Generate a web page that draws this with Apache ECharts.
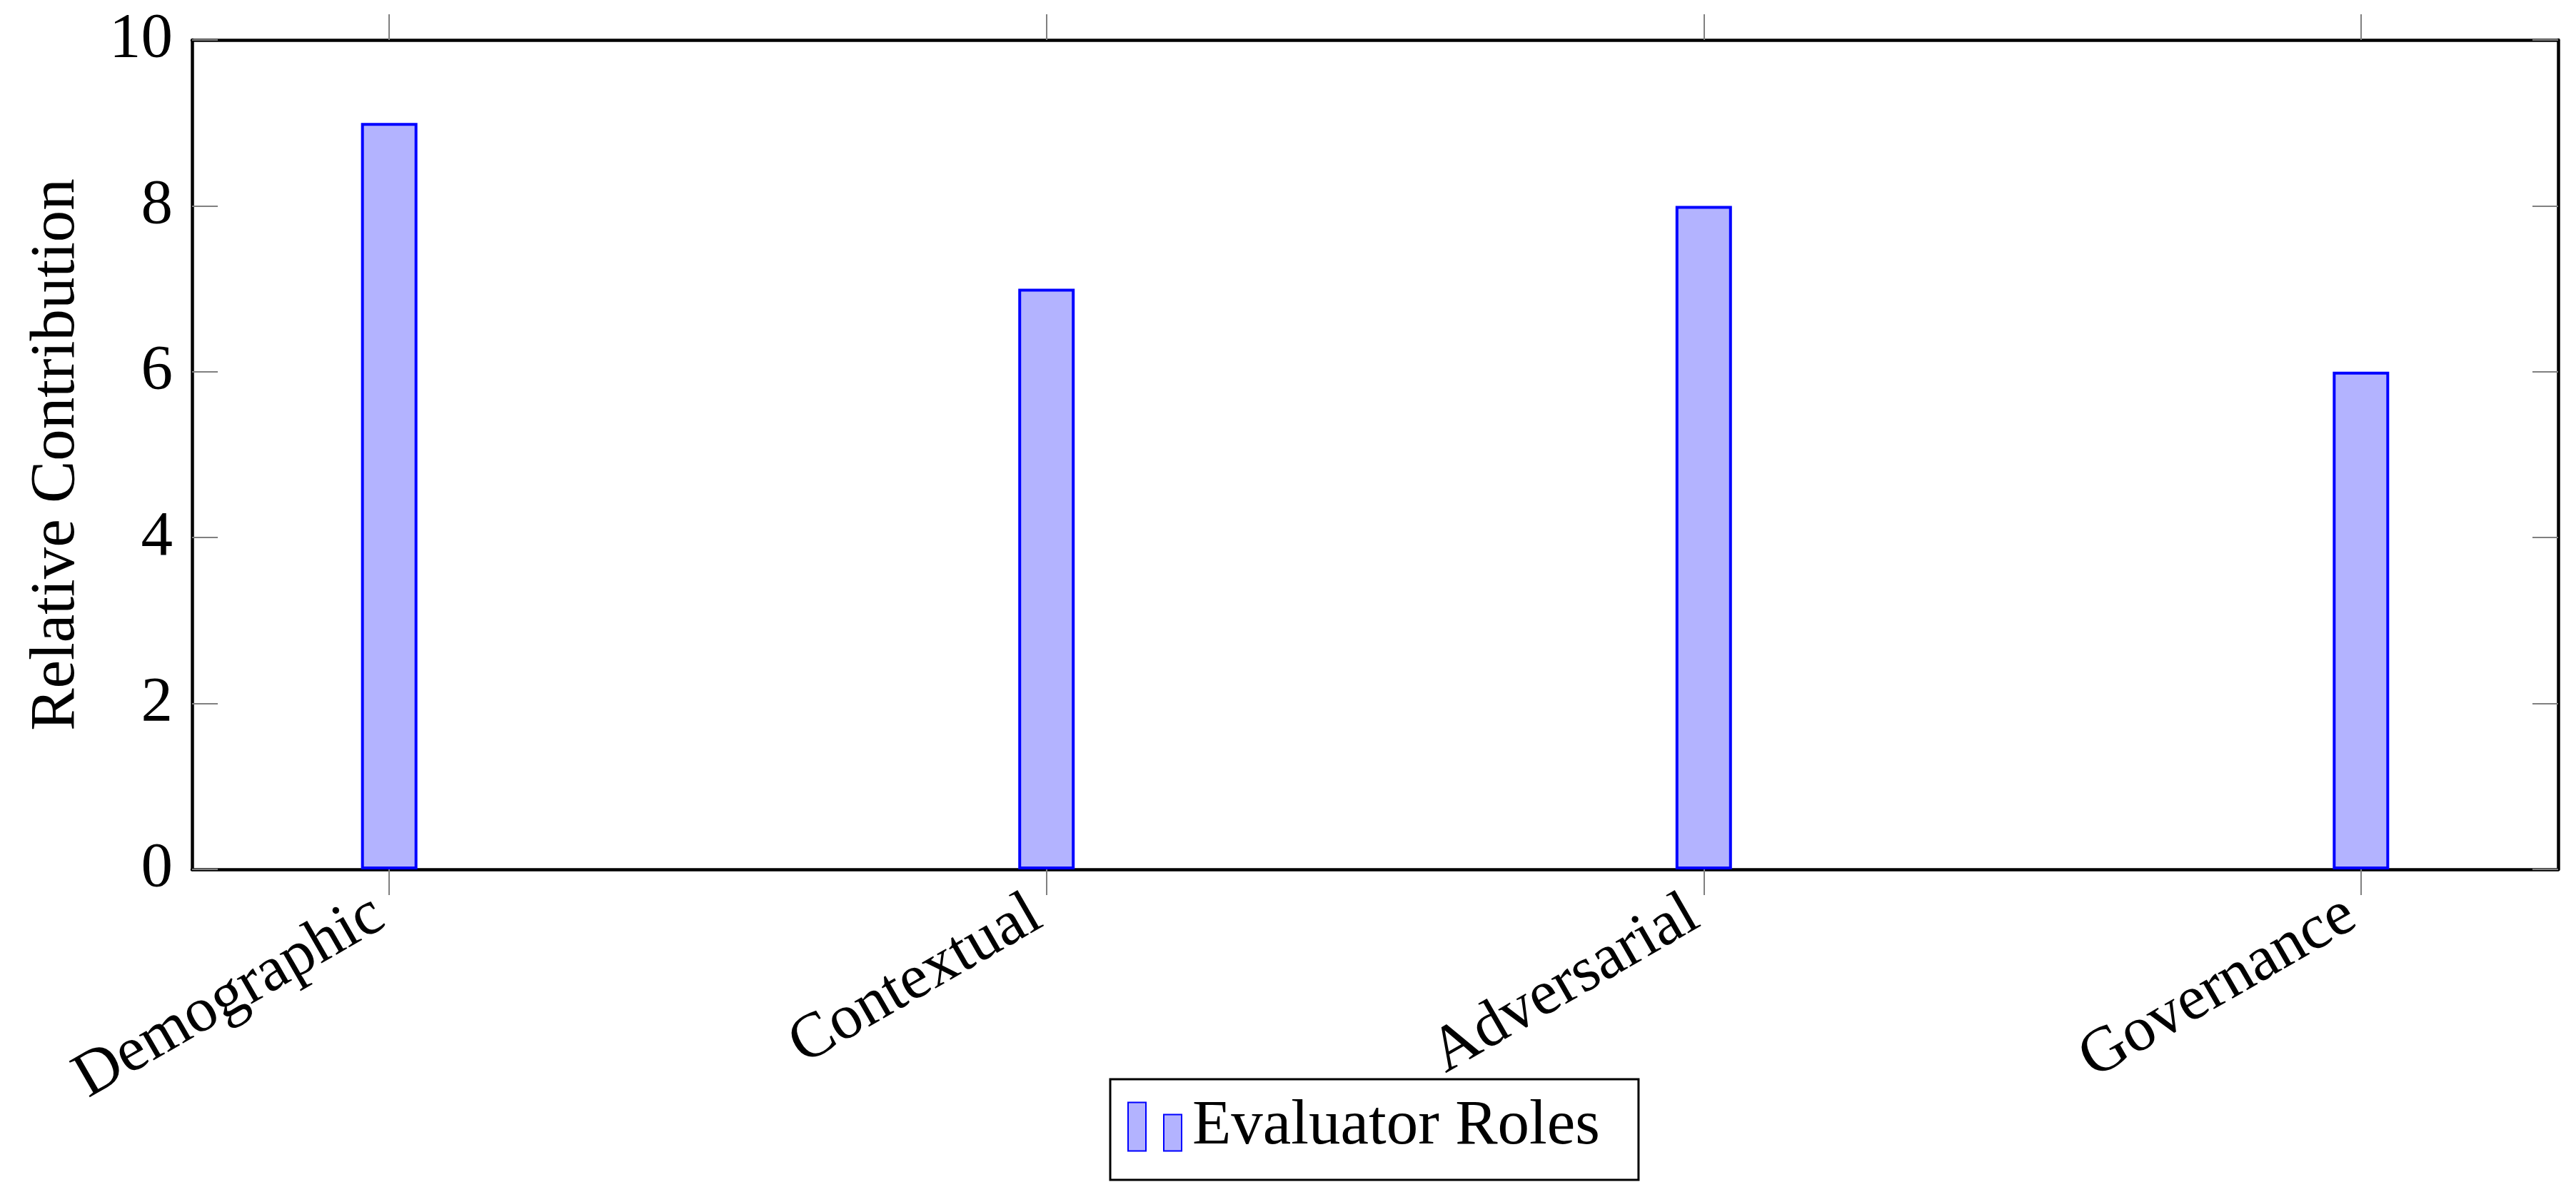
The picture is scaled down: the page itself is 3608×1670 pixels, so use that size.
<!DOCTYPE html>
<html>
<head>
<meta charset="utf-8">
<script src="https://cdn.jsdelivr.net/npm/echarts@6/dist/echarts.min.js"></script>
<style>
  html, body { margin: 0; padding: 0; background: #fff; }
  #chart { width: 3608px; height: 1670px; }
</style>
</head>
<body>
<div id="chart"></div>
<script>
// categories and values
const categories = ['Demographic', 'Contextual', 'Adversarial', 'Governance']
const contribution = [9, 7, 8, 6]
const yTicks = [0, 2, 4, 6, 8, 10]
const seriesName = 'Evaluator Roles'

const FONT = 'Liberation Serif'
const FONT_SIZE = 89
const tickPos = categories.map((c, i) => i)

const chart = echarts.init(document.getElementById('chart'))

const xBase = {
  type: 'value',
  min: -0.3,
  max: 3.3,
  splitLine: { show: false },
  axisLine: { show: true, onZero: false, lineStyle: { color: '#000', width: 4.5 } },
  axisTick: {
    show: true,
    inside: false,
    length: 36,
    customValues: tickPos,
    lineStyle: { color: '#808080', width: 2 },
  },
}

const yBase = {
  type: 'value',
  min: 0,
  max: 10,
  interval: 2,
  splitLine: { show: false },
  axisLine: { show: true, onZero: false, lineStyle: { color: '#000', width: 4.5 } },
  axisTick: { show: true, inside: true, length: 36, lineStyle: { color: '#808080', width: 2 } },
}

const option = {
  backgroundColor: '#fff',
  animation: false,
  grid: { left: 269, right: 25, top: 56, bottom: 452 },
  legend: {
    data: [seriesName],
    left: 1555,
    top: 1512,
    icon: 'path://M0,0 H25 V68 H0 Z M50,17 H75 V68 H50 Z',
    itemWidth: 75,
    itemHeight: 68,
    padding: [22, 54, 30, 24],
    borderColor: '#000',
    borderWidth: 3,
    borderRadius: 0,
    textStyle: { fontFamily: FONT, fontSize: FONT_SIZE, color: '#000', padding: [0, 0, 0, 10] },
  },
  xAxis: [
    {
      ...xBase,
      position: 'bottom',
      axisLabel: {
        show: true,
        rotate: 30,
        margin: 50,
        padding: [0, 16, 0, 0],
        customValues: tickPos,
        fontFamily: FONT,
        fontSize: FONT_SIZE,
        color: '#000',
        formatter: v => categories[Math.round(v)] || '',
      },
    },
    { ...xBase, position: 'top', axisLabel: { show: false } },
  ],
  yAxis: [
    {
      ...yBase,
      position: 'left',
      name: 'Relative Contribution',
      nameLocation: 'middle',
      nameGap: 145,
      nameTextStyle: { fontFamily: FONT, fontSize: FONT_SIZE, color: '#000' },
      axisLabel: {
        show: true,
        margin: 27,
        fontFamily: FONT,
        fontSize: FONT_SIZE,
        color: '#000',
        customValues: yTicks,
      },
    },
    { ...yBase, position: 'right', axisLabel: { show: false } },
  ],
  series: [
    {
      name: seriesName,
      type: 'bar',
      xAxisIndex: 0,
      yAxisIndex: 0,
      barWidth: 79,
      data: contribution.map((v, i) => [i, v]),
      itemStyle: { color: '#b3b3ff', borderColor: '#0000ff', borderWidth: 4 },
    },
  ],
}

chart.setOption(option)
</script>
</body>
</html>
